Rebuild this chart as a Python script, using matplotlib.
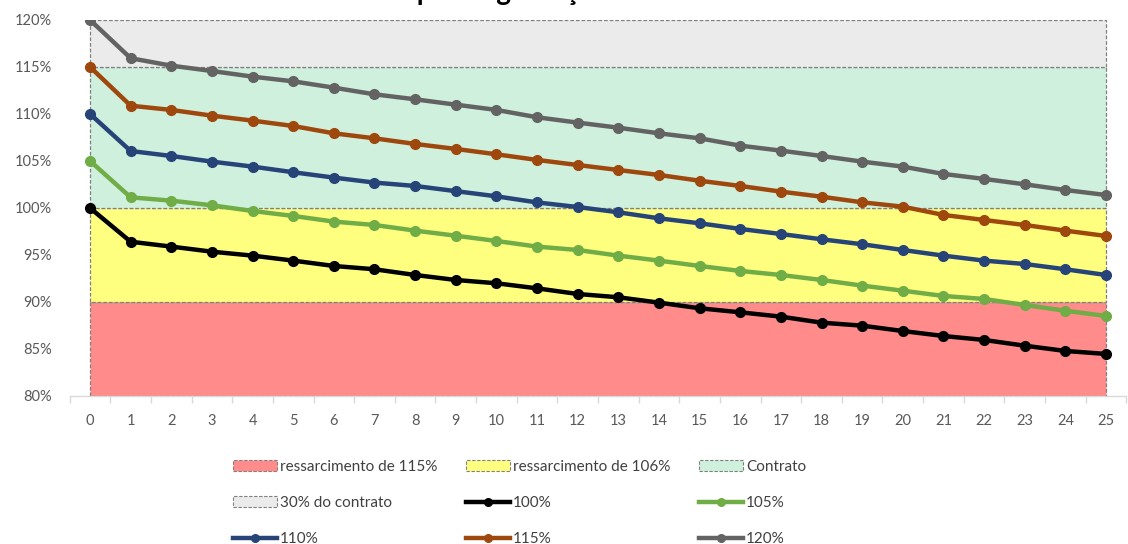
import matplotlib
matplotlib.use("Agg")
import matplotlib.pyplot as plt
from matplotlib.patches import Patch
from matplotlib.lines import Line2D
from matplotlib.ticker import FixedLocator, FuncFormatter

plt.rcParams['font.family'] = ['Lato', 'DejaVu Sans']

# Year index
years = list(range(26))

# Performance curves (% of contracted generation)
s100 = [100.0, 96.41, 95.89, 95.35, 94.93, 94.40, 93.83, 93.48, 92.87, 92.34,
        91.99, 91.45, 90.85, 90.50, 89.93, 89.33, 88.90, 88.44, 87.80, 87.48,
        86.91, 86.38, 85.96, 85.35, 84.79, 84.47]
s105 = [105.0, 101.13, 100.78, 100.28, 99.68, 99.15, 98.55, 98.19, 97.59, 97.05,
        96.49, 95.89, 95.53, 94.93, 94.40, 93.83, 93.30, 92.87, 92.34, 91.74,
        91.20, 90.64, 90.32, 89.68, 89.07, 88.51]
s110 = [110.0, 106.06, 105.53, 104.93, 104.40, 103.80, 103.23, 102.70, 102.34, 101.79,
        101.24, 100.59, 100.10, 99.54, 98.90, 98.37, 97.77, 97.23, 96.67, 96.14,
        95.53, 94.93, 94.40, 94.04, 93.48, 92.87]
s115 = [115.0, 110.88, 110.43, 109.82, 109.29, 108.72, 107.94, 107.41, 106.81, 106.28,
        105.71, 105.11, 104.57, 104.04, 103.51, 102.90, 102.34, 101.74, 101.20, 100.60,
        100.14, 99.26, 98.72, 98.19, 97.59, 97.02]
s120 = [120.0, 115.93, 115.14, 114.57, 113.97, 113.47, 112.80, 112.09, 111.56, 110.99,
        110.43, 109.65, 109.08, 108.54, 107.94, 107.41, 106.63, 106.10, 105.53, 104.93,
        104.40, 103.62, 103.09, 102.52, 101.91, 101.38]

series_labels = ['100%', '105%', '110%', '115%', '120%']
series_colors = ['#000000', '#70AD47', '#264478', '#9E480E', '#636363']

# Background bands (lower, upper limits in %)
band_labels = ['ressarcimento de 115%', 'ressarcimento de 106%', 'Contrato', '30% do contrato']
band_lower = [80, 90, 100, 115]
band_upper = [90, 100, 115, 120]
band_colors = ['#FF8B8B', '#FFFF7F', '#CFF0DD', '#EBEBEB']

y_ticks = [80, 85, 90, 95, 100, 105, 110, 115, 120]

fig = plt.figure(figsize=(11.28, 5.44), dpi=100)
ax = fig.add_axes([0.0618, 0.2721, 0.9367, 0.6912])

band_handles = []
for lo, hi, col, lab in zip(band_lower, band_upper, band_colors, band_labels):
    ax.fill_between([years[0], years[-1]], [lo, lo], [hi, hi], facecolor=col,
                    edgecolor='#7F7F7F', linestyle=(0, (3, 1.5)), linewidth=0.9, zorder=1)
    band_handles.append(Patch(facecolor=col, edgecolor='#7F7F7F',
                              linestyle=(0, (3, 1.5)), linewidth=0.8, label=lab))

line_handles = []
for vals, col, lab in zip([s100, s105, s110, s115, s120], series_colors, series_labels):
    ax.plot(years, vals, color=col, linewidth=3.2, marker='o', markersize=7,
            zorder=3, solid_capstyle='round')
    line_handles.append(Line2D([0], [0], color=col, linewidth=3.2, marker='o',
                               markersize=5.5, label=lab))

ax.set_xlim(-0.5, 25.5)
ax.set_ylim(80, 120)

ax.set_yticks(y_ticks)
ax.yaxis.set_major_formatter(FuncFormatter(lambda v, p: f'{int(v)}%'))
ax.tick_params(axis='y', length=0, pad=13, labelsize=10.5, labelcolor='#595959')

ax.set_xticks(years)
ax.xaxis.set_minor_locator(FixedLocator([i - 0.5 for i in range(27)]))
ax.tick_params(axis='x', which='major', length=0, pad=13, labelsize=10.5, labelcolor='#595959')
ax.tick_params(axis='x', which='minor', length=5, color='#D9D9D9', width=1)

for side in ['top', 'right', 'left']:
    ax.spines[side].set_visible(False)
ax.spines['bottom'].set_color('#D9D9D9')
ax.spines['bottom'].set_linewidth(1)
ax.set_facecolor('white')

# Chart title, sitting at the very top edge of the canvas
fig.text(0.202, 1.0, 'Ressarcimento por degradação', ha='left', va='baseline',
         fontsize=20, fontweight='bold', color='black')

# Row-wise ordering in a 3-column legend (matplotlib fills columns first)
entries = band_handles + line_handles
order = [0, 3, 6, 1, 4, 7, 2, 5, 8]
handles = [entries[i] for i in order]
fig.legend(handles=handles, ncol=3, loc='upper left', bbox_to_anchor=(0.201, 0.166),
           frameon=False, fontsize=11, labelcolor='#404040', handlelength=2.9,
           handletextpad=0.2, columnspacing=1.85, labelspacing=1.45, borderaxespad=0)

fig.savefig('out.png', dpi=100)
